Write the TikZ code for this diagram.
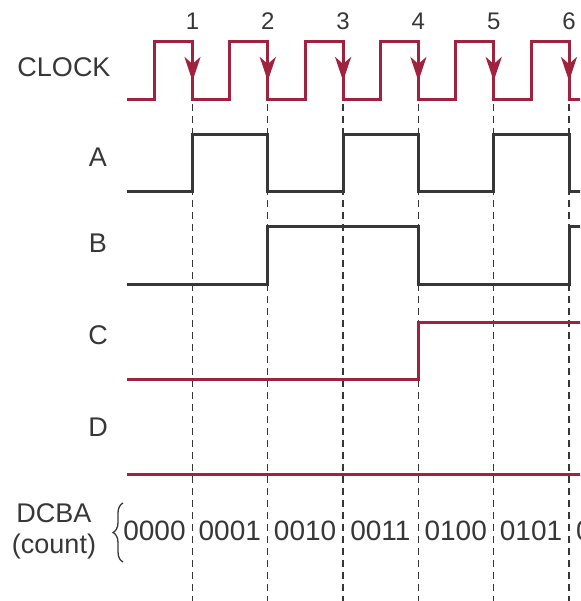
\documentclass[tikz,border=0pt]{standalone}
\usepackage{fontspec}
\setmainfont{Liberation Sans}
\usetikzlibrary{arrows.meta,decorations.pathreplacing}
\definecolor{crim}{RGB}{160,34,62}
\definecolor{dgray}{RGB}{55,55,55}
\tikzset{
  wave/.style={line width=3pt,line join=miter},
  redwave/.style={wave,draw=crim},
  blkwave/.style={wave,draw=dgray},
  guide/.style={draw=dgray,line width=1.3pt,dash pattern=on 7pt off 5pt},
  lbl/.style={text=dgray,font=\fontsize{27}{30}\selectfont,inner sep=0pt},
  num/.style={text=dgray,font=\fontsize{24}{28}\selectfont,inner sep=0pt},
  cnt/.style={text=dgray,font=\fontsize{28}{31}\selectfont,inner sep=0pt},
  edgearrow/.style={draw=crim,line width=3pt,-{Stealth[length=24pt,width=16pt,inset=7pt]}},
}
\begin{document}
\begin{tikzpicture}[x=1pt,y=-1pt]
\useasboundingbox (0,0) rectangle (580,601);
\begin{scope}
\clip (0,0) rectangle (580,601);
% guide lines
\foreach \i in {1,...,6}{
  \pgfmathsetmacro{\fx}{192.5+(\i-1)*75.3}
  \coordinate (gtop\i) at (\fx,104);
  \coordinate (gbot\i) at (\fx,601);
  \draw[guide] (gtop\i) -- (gbot\i);
  \node[num] (n\i) at (\fx,21) {\i};
}
% clock
\draw[redwave] (127,100) -- (154.5,100) -- (154.5,42) -- (192.5,42) -- (192.5,100)
  -- (229.8,100) -- (229.8,42) -- (267.8,42) -- (267.8,100)
  -- (305.1,100) -- (305.1,42) -- (343.1,42) -- (343.1,100)
  -- (380.4,100) -- (380.4,42) -- (418.4,42) -- (418.4,100)
  -- (455.7,100) -- (455.7,42) -- (493.7,42) -- (493.7,100)
  -- (531,100) -- (531,42) -- (569,42) -- (569,100) -- (585,100);
\foreach \i in {1,...,6}{
  \pgfmathsetmacro{\fx}{192.5+(\i-1)*75.3}
  \coordinate (as\i) at (\fx,44);
  \coordinate (ae\i) at (\fx,81);
  \draw[edgearrow] (as\i) -- (ae\i);
}
% A
\draw[blkwave] (127,192) -- (192.5,192) -- (192.5,135) -- (267.8,135) -- (267.8,192)
  -- (343.1,192) -- (343.1,135) -- (418.4,135) -- (418.4,192)
  -- (493.7,192) -- (493.7,135) -- (569,135) -- (569,192) -- (585,192);
% B
\draw[blkwave] (127,284) -- (267.8,284) -- (267.8,227) -- (418.4,227) -- (418.4,284)
  -- (569,284) -- (569,227) -- (585,227);
% C
\draw[redwave] (127,379) -- (418.4,379) -- (418.4,322) -- (585,322);
% D
\draw[redwave] (127,474) -- (585,474);
% counts
\foreach \v [count=\k] in {0000,0001,0010,0011,0100,0101,0110}{
  \pgfmathsetmacro{\cx}{154.5+(\k-1)*75.3}
  \node[cnt] (c\k) at (\cx,531) {\v};
}
\end{scope}
% labels
\node[lbl] (lclk) at (64,67) {CLOCK};
\node[lbl] (la) at (98,157) {A};
\node[lbl] (lb) at (98,243) {B};
\node[lbl] (lc) at (98,335) {C};
\node[lbl] (ld) at (98,427) {D};
\node[lbl] (ldcba) at (54,513) {DCBA};
\node[lbl] (lcount) at (54,547) {(count)};
\coordinate (bb) at (123,562);
\coordinate (bt) at (123,503);
\draw[dgray,line width=1.3pt,decorate,decoration={brace,amplitude=10pt}] (bb) -- (bt);
\end{tikzpicture}
\end{document}
